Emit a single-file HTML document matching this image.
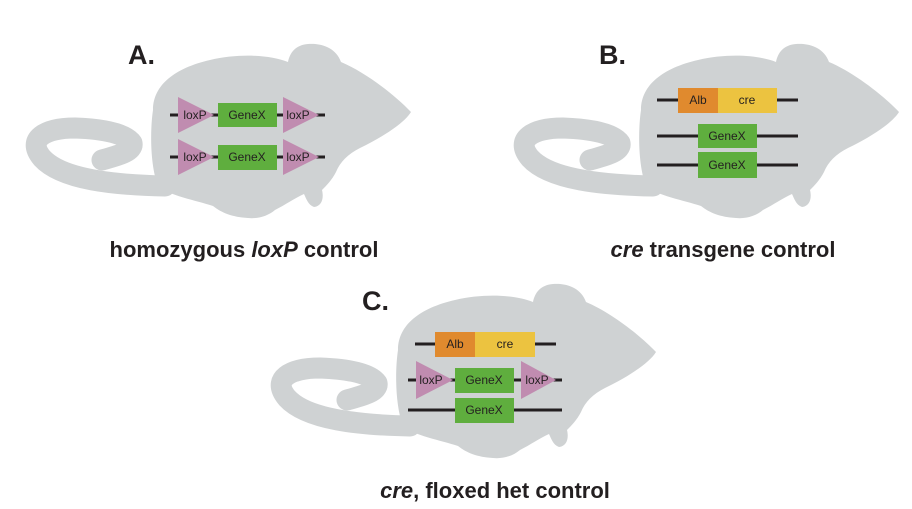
<!DOCTYPE html>
<html><head><meta charset="utf-8"><style>
html,body{margin:0;padding:0;background:#fff;}
svg{display:block;}
text{font-family:"Liberation Sans",sans-serif;fill:#231f20;}
.g{font-size:12px;}
.lbl{font-size:27px;font-weight:bold;}
.cap{font-size:22px;font-weight:bold;}
</style></head><body>
<svg width="912" height="509" viewBox="0 0 912 509" xmlns="http://www.w3.org/2000/svg">
<defs>
<g id="mouse">
<path d="M153,110 C153,85 175,68 210,60 C240,53 270,55 288,62 C290,52 296,45 308,44 C322,43 336,48 341,62 C365,72 395,95 411,112 C405,122 385,136 360,148 C348,154 340,162 336,172 C332,180 326,186 322,190 C324,198 322,206 314,207 C308,205 306,198 304,194 C295,198 285,205 275,210 C268,216 258,219 248,218 C232,217 222,213 213,206 C195,200 170,196 158,186 C150,165 150,130 153,110 Z" fill="#cfd2d3"/>
<path d="M165,186 C115,185 62,180 42,158 C26,139 45,128 75,128 C105,129 126,134 132,143 C134,152 116,156 102,160" fill="none" stroke="#cfd2d3" stroke-width="21" stroke-linecap="round" stroke-linejoin="round"/>
</g>
</defs>
<use href="#mouse"/>
<use href="#mouse" transform="translate(488,0)"/>
<use href="#mouse" transform="translate(245,240)"/>

<g stroke="#231f20" stroke-width="3">
<line x1="170" y1="115" x2="325" y2="115"/>
<line x1="170" y1="157" x2="325" y2="157"/>
<line x1="657" y1="100" x2="798" y2="100"/>
<line x1="657" y1="136" x2="798" y2="136"/>
<line x1="657" y1="165" x2="798" y2="165"/>
<line x1="415" y1="344" x2="556" y2="344"/>
<line x1="408" y1="380" x2="562" y2="380"/>
<line x1="408" y1="410" x2="562" y2="410"/>
</g>

<g fill="#c08cb0">
<polygon points="178,97 214,115 178,133"/><polygon points="283,97 319,115 283,133"/>
<polygon points="178,139 214,157 178,175"/><polygon points="283,139 319,157 283,175"/>
<polygon points="416,361 453,380 416,399"/><polygon points="521,361 556,380 521,399"/>
</g>
<g fill="#5fae3e">
<rect x="218" y="103" width="59" height="24"/><rect x="218" y="145" width="59" height="25"/>
<rect x="698" y="124" width="59" height="24"/><rect x="698" y="152" width="59" height="26"/>
<rect x="455" y="368" width="59" height="25"/><rect x="455" y="398" width="59" height="25"/>
</g>
<rect x="678" y="88" width="40" height="25" fill="#e08a2e"/><rect x="718" y="88" width="59" height="25" fill="#ecc340"/>
<rect x="435" y="332" width="40" height="25" fill="#e08a2e"/><rect x="475" y="332" width="60" height="25" fill="#ecc340"/>

<g class="g" text-anchor="middle">
<text x="247" y="119">GeneX</text><text x="247" y="161">GeneX</text>
<text x="195" y="119">loxP</text><text x="298" y="119">loxP</text>
<text x="195" y="161">loxP</text><text x="298" y="161">loxP</text>
<text x="698" y="104">Alb</text><text x="747" y="104">cre</text>
<text x="727" y="140">GeneX</text><text x="727" y="169">GeneX</text>
<text x="455" y="348">Alb</text><text x="505" y="348">cre</text>
<text x="431" y="384">loxP</text><text x="537" y="384">loxP</text>
<text x="484" y="384">GeneX</text><text x="484" y="414">GeneX</text>
</g>

<text class="lbl" x="128" y="64">A.</text>
<text class="lbl" x="599" y="64">B.</text>
<text class="lbl" x="362" y="310">C.</text>
<text class="cap" x="244" y="257" text-anchor="middle">homozygous <tspan font-style="italic">loxP</tspan> control</text>
<text class="cap" x="723" y="257" text-anchor="middle"><tspan font-style="italic">cre</tspan> transgene control</text>
<text class="cap" x="495" y="498" text-anchor="middle"><tspan font-style="italic">cre</tspan>, floxed het control</text>
</svg>
</body></html>
